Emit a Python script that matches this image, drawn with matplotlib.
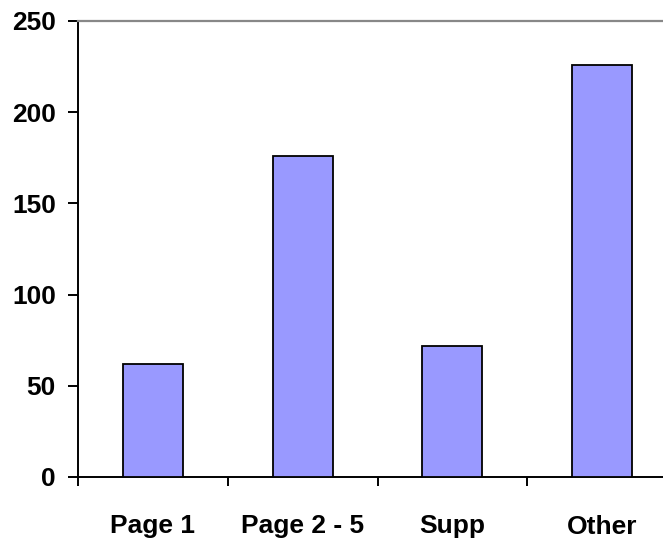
import matplotlib.pyplot as plt
import numpy as np

categories = ['Page 1', 'Page 2 - 5', 'Supp', 'Other']
values = [62, 176, 72, 226]

plt.rcParams['font.family'] = 'Liberation Sans'
plt.rcParams['font.weight'] = 'bold'

fig = plt.figure(figsize=(6.63, 5.39), dpi=100)
ax = fig.add_axes([78 / 663, 62 / 539, 599 / 663, 456 / 539])

x = np.arange(len(categories)) + 0.5
ax.bar(x, values, width=0.4, color='#9999ff', edgecolor='black', linewidth=1.3, zorder=3)

ax.set_xlim(0, 4)
ax.set_ylim(0, 250)
ax.set_yticks([0, 50, 100, 150, 200, 250])

ax.set_xticks(x)
ax.set_xticklabels(categories)
ax.set_xticks(np.arange(0, 5), minor=True)
ax.tick_params(axis='x', which='major', length=0, pad=27, labelsize=19)
ax.tick_params(axis='x', which='minor', length=6.5, width=1.4, direction='out')
ax.tick_params(axis='y', length=7, width=1.4, pad=9, labelsize=19)

ax.spines['right'].set_visible(False)
ax.spines['top'].set_color('#888888')
ax.spines['top'].set_linewidth(1.6)
ax.spines['left'].set_linewidth(1.4)
ax.spines['bottom'].set_linewidth(1.4)

fig.savefig('out.png', dpi=100)
